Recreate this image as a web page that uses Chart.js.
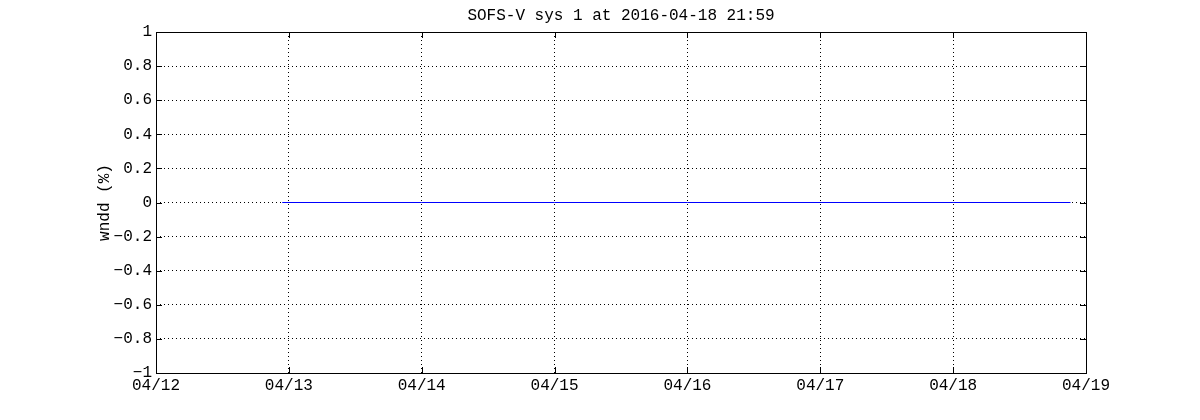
<!DOCTYPE html>
<html>
<head>
<meta charset="utf-8">
<script src="https://cdn.jsdelivr.net/npm/chart.js@4/dist/chart.umd.min.js"></script>
<style>
html,body{margin:0;padding:0;background:#fff;}
#wrap{width:1200px;height:420px;position:relative;}
</style>
</head>
<body>
<div id="wrap"><canvas id="c" width="1200" height="420"></canvas></div>
<script>
// ---- data (hours since 2016-04-12 00:00) ----
const titleText = 'SOFS-V sys 1 at 2016-04-18 21:59';
const yAxisTitle = 'wndd (%)';
const xTickLabels = ['04/12','04/13','04/14','04/15','04/16','04/17','04/18','04/19'];
const yTickValues = [-1,-0.8,-0.6,-0.4,-0.2,0,0.2,0.4,0.6,0.8,1];
const yTickLabels = ['\u22121','\u22120.8','\u22120.6','\u22120.4','\u22120.2','0','0.2','0.4','0.6','0.8','1'];
const sampleHours = [22.8, 48, 72, 96, 120, 144, 165.2];
const wnddValues  = [0, 0, 0, 0, 0, 0, 0];

const FONT = 'Liberation Mono';
const FS = 16;
Chart.defaults.font.family = FONT;
Chart.defaults.font.size = FS;
Chart.defaults.color = '#000';

const frameTicks = {
  id: 'frameTicks',
  afterDatasetsDraw(chart) {
    const {ctx, chartArea: a, scales} = chart;
    const L = 6;
    ctx.save();
    ctx.strokeStyle = '#000';
    ctx.lineWidth = 1;
    ctx.setLineDash([]);
    ctx.beginPath();
    scales.x.ticks.forEach(t => {
      const px = Math.round(scales.x.getPixelForValue(t.value)) + 0.5;
      ctx.moveTo(px, a.bottom); ctx.lineTo(px, a.bottom - L);
      ctx.moveTo(px, a.top); ctx.lineTo(px, a.top + L);
    });
    scales.y.ticks.forEach(t => {
      const py = Math.round(scales.y.getPixelForValue(t.value)) + 0.5;
      ctx.moveTo(a.left, py); ctx.lineTo(a.left + L, py);
      ctx.moveTo(a.right, py); ctx.lineTo(a.right - L, py);
    });
    ctx.stroke();
    ctx.strokeRect(Math.round(a.left) + 0.5, Math.round(a.top) + 0.5,
                   Math.round(a.right - a.left), Math.round(a.bottom - a.top));
    ctx.restore();
  }
};

new Chart(document.getElementById('c'), {
  type: 'scatter',
  data: {
    datasets: [{
      data: sampleHours.map((h, i) => ({x: h, y: wnddValues[i]})),
      showLine: true,
      borderColor: '#0000ff',
      borderWidth: 1,
      pointRadius: 0,
      fill: false
    }]
  },
  options: {
    responsive: false,
    animation: false,
    devicePixelRatio: 1,
    layout: {padding: {left: 0, right: 114, top: 0, bottom: 0}},
    plugins: {
      legend: {display: false},
      tooltip: {enabled: false},
      title: {
        display: true, text: titleText, fullSize: false,
        font: {family: FONT, size: FS, weight: 'normal'}, color: '#000',
        padding: {top: 6.4, bottom: 6.4}
      }
    },
    scales: {
      x: {
        type: 'linear', min: 0, max: 168,
        afterBuildTicks(s) { s.ticks = xTickLabels.map((_, i) => ({value: i * 24})); },
        afterFit(s) { s.height = 47; },
        ticks: {
          autoSkip: false, maxRotation: 0, padding: 3,
          callback: (v) => xTickLabels[Math.round(v / 24)]
        },
        grid: {color: '#000', lineWidth: 1, drawTicks: false},
        border: {display: false, dash: [1, 3]}
      },
      y: {
        type: 'linear', min: -1, max: 1,
        afterBuildTicks(s) { s.ticks = yTickValues.map(v => ({value: v})); },
        afterFit(s) { s.width = 156; },
        ticks: {
          autoSkip: false, padding: 4,
          callback: (v) => yTickLabels[yTickValues.findIndex(t => Math.abs(t - v) < 1e-9)]
        },
        title: {
          display: true, text: yAxisTitle, color: '#000',
          font: {family: FONT, size: FS}, padding: {top: 95.4, bottom: 0}
        },
        grid: {color: '#000', lineWidth: 1, drawTicks: false},
        border: {display: false, dash: [1, 3]}
      }
    }
  },
  plugins: [frameTicks]
});
</script>
</body>
</html>
